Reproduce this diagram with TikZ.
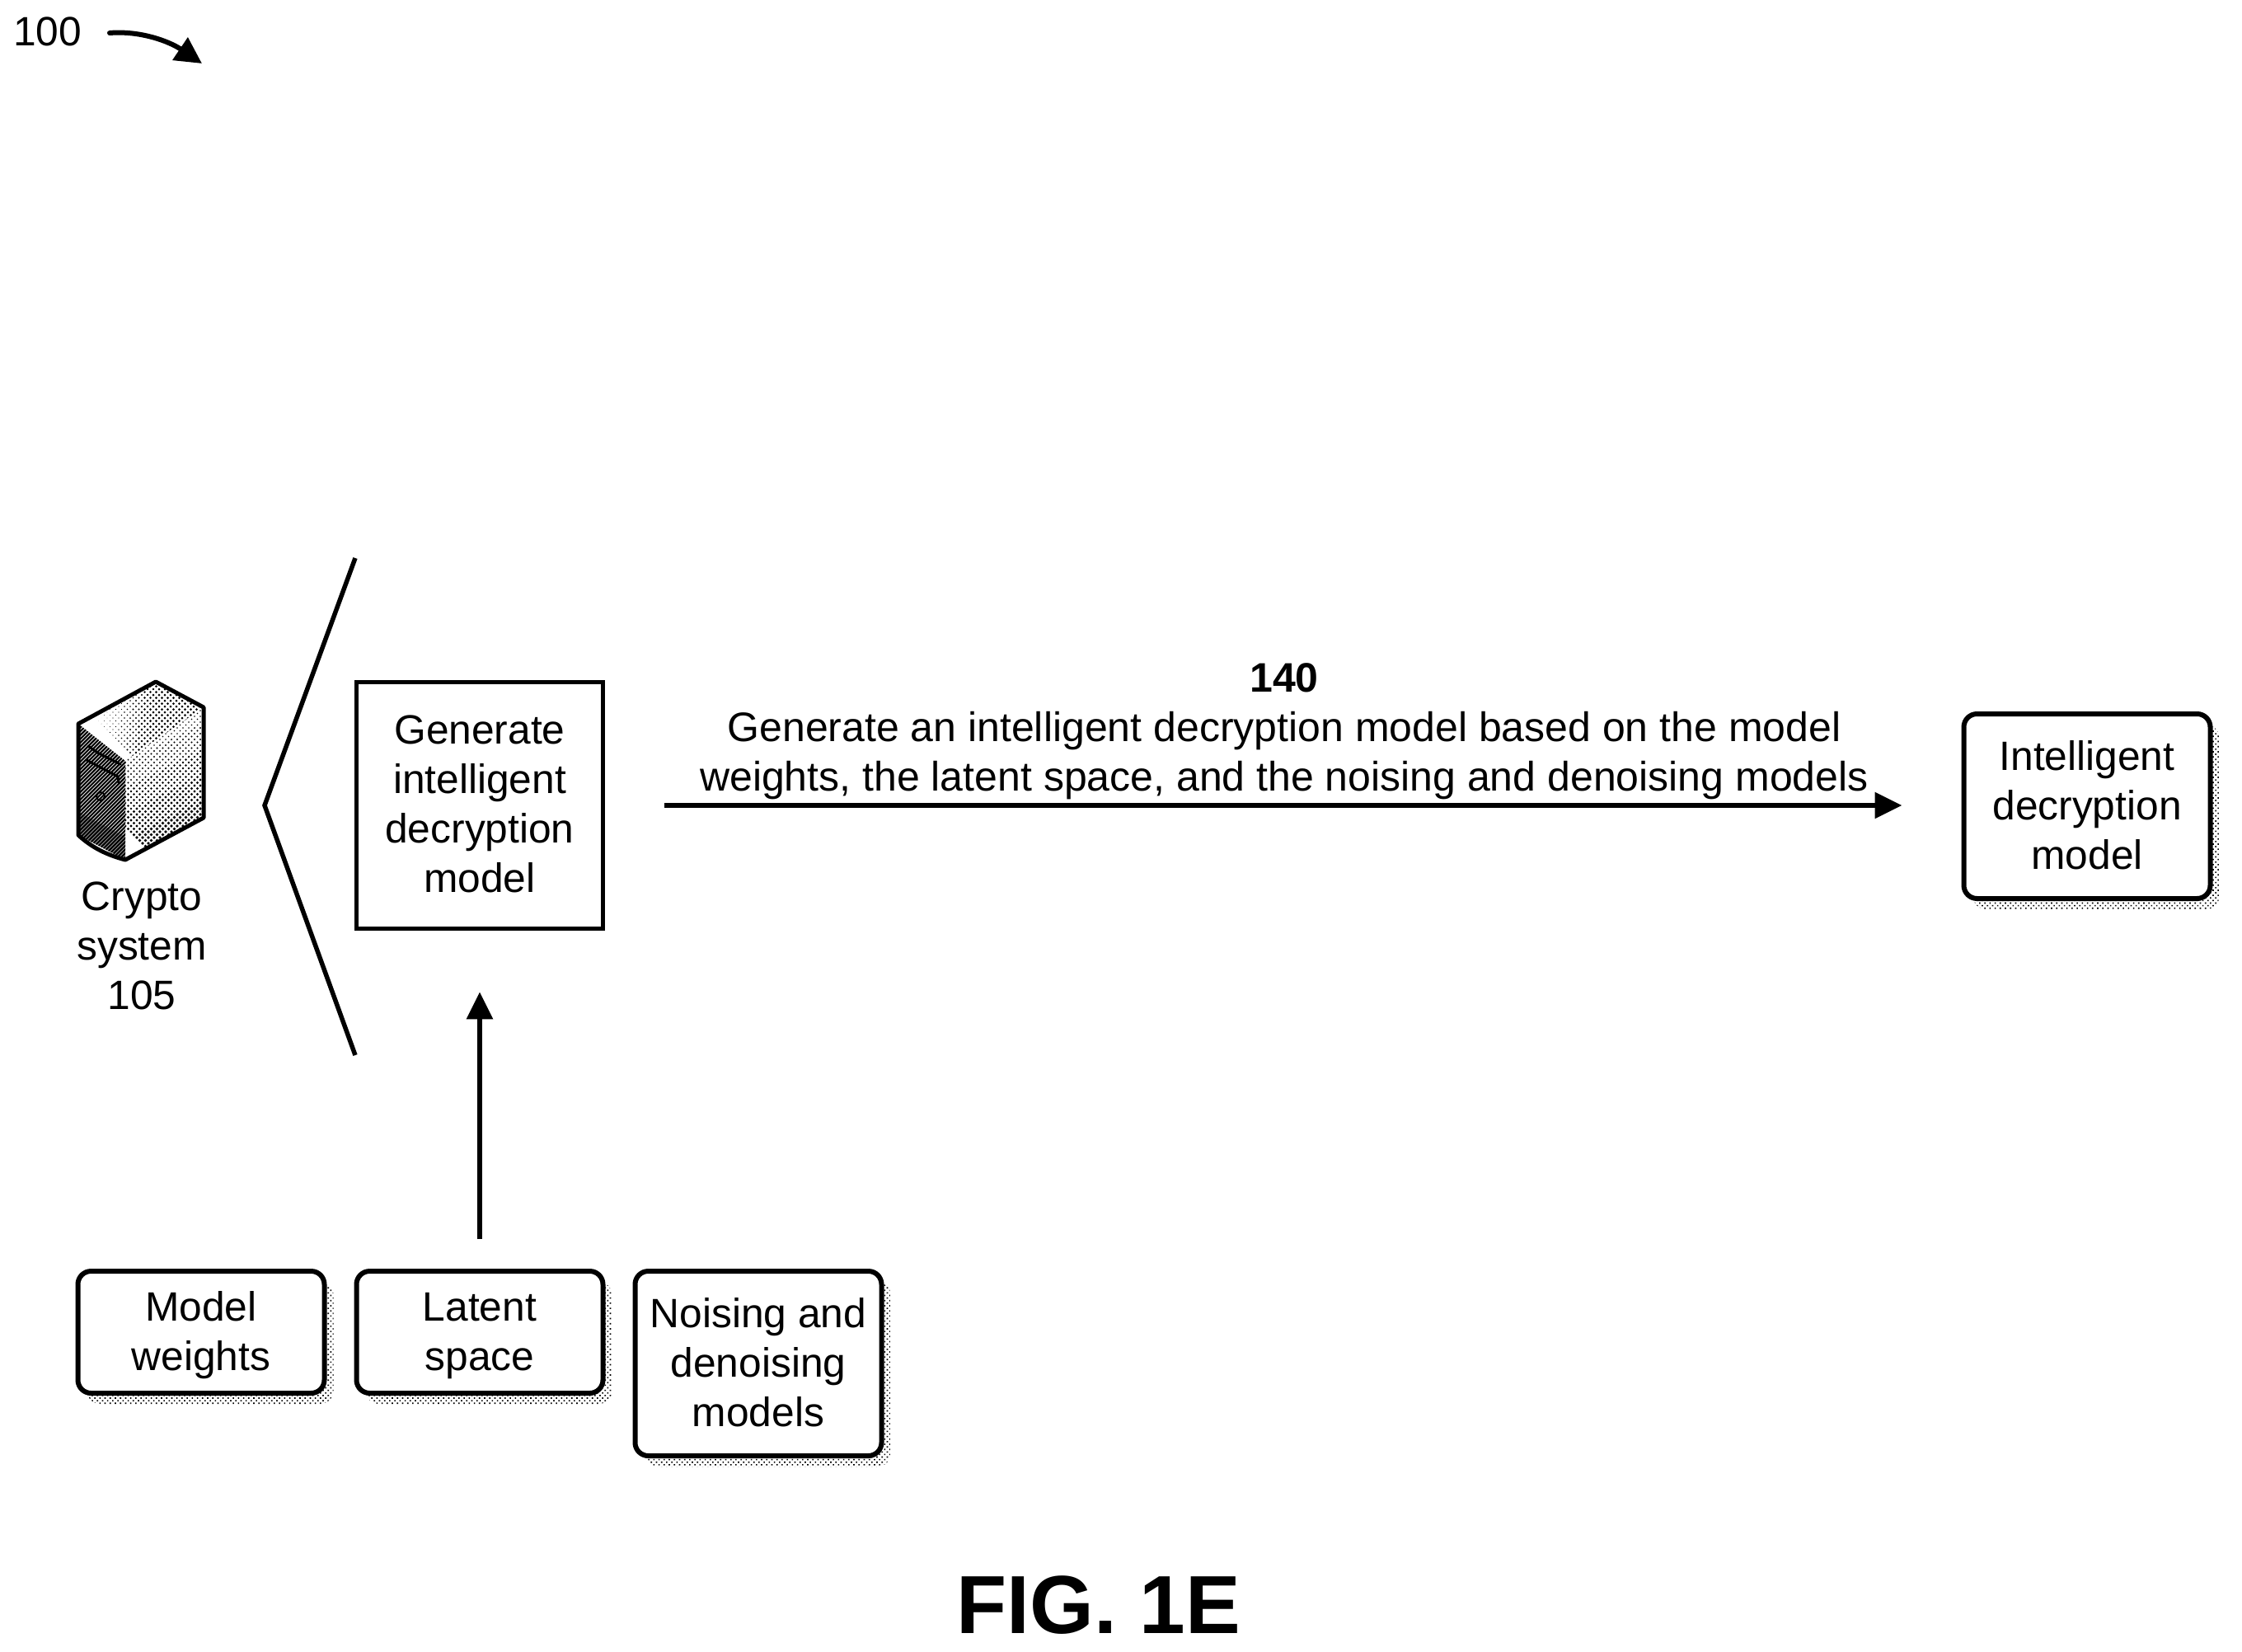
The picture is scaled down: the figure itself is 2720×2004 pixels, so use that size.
\documentclass[tikz,border=0pt]{standalone}
\usepackage{fontspec}
\setmainfont{Liberation Sans}
\usetikzlibrary{arrows.meta,patterns.meta,shadows,calc}
\newcommand{\downa}{\rule{0pt}{44pt}}
\newcommand{\upa}{\rule[-3pt]{0pt}{1pt}}
\tikzset{
  x=1pt,y=-1pt,
  txt/.style={font=\fontsize{49.7}{60}\selectfont,align=center,inner sep=0pt},
  shade dots/.style={pattern={Dots[distance=4.4pt,radius=1.15pt,angle=45]},draw=none},
  box/.style={txt,draw=black,line width=6pt,fill=white,minimum width=299pt,rounded corners=16pt,
    general shadow={shadow xshift=11pt,shadow yshift=-13pt,shade dots}},
  sqbox/.style={txt,draw=black,line width=5.5pt,fill=white,minimum width=299pt,minimum height=299pt},
  link/.style={draw=black,line width=5.5pt,-{Triangle[length=33pt,width=31pt]}},
  brace/.style={draw=black,line width=5.5pt,line join=miter},
}
\begin{document}
\begin{tikzpicture}
\useasboundingbox (0,0) rectangle (2720,2004);
% reference
\node[txt,anchor=west] (ref) at (16,38) {100};
\coordinate (refa) at (133,40);
\coordinate (refb) at (245,77);
\draw[draw=black,line width=6pt,line cap=round,-{Triangle[length=32pt,width=32pt]}]
  (refa) .. controls (170,37) and (205,50) .. (refb);
% server icon
\coordinate (sTL) at (95,878);
\coordinate (sT) at (189,827);
\coordinate (sTR) at (247,858);
\coordinate (sBR) at (247,992);
\coordinate (sB) at (152,1043);
\coordinate (sBL) at (95,1013);
\coordinate (sF) at (152,923);
% top face dots
\begin{scope}
\clip (sTL) -- (sT) -- (sTR) -- (sF) -- cycle;
\foreach \i in {0,...,40}{\foreach \j in {0,...,40}{
  \pgfmathsetmacro{\px}{95+\i*3.5+\j*3.5}
  \pgfmathsetmacro{\py}{850+\i*3.5-\j*3.5}
  \pgfmathsetmacro{\rr}{max(0,min(1.5,0.022*(\px-120)+0.004*(\py-830)))}
  \ifdim\rr pt>0.15pt \fill[black] (\px,\py) circle (\rr pt);\fi
}}
\end{scope}
% right face dots
\begin{scope}
\clip (sF) -- (sTR) -- (sBR) -- (sB) -- cycle;
\foreach \i in {0,...,40}{\foreach \j in {0,...,40}{
  \pgfmathsetmacro{\px}{110+\i*3.5+\j*3.5}
  \pgfmathsetmacro{\py}{960+\i*3.5-\j*3.5}
  \pgfmathsetmacro{\rr}{min(2,0.8+0.008*(\py-900)+0.004*(\px-150))}
  \fill[black] (\px,\py) circle (\rr pt);
}}
\end{scope}
% left face
\begin{scope}
\clip (sTL) -- (sF) -- (sB) -- (sBL) -- cycle;
\foreach \k in {0,...,50}{
  \draw[black,line width=2.2pt] (80,{900+\k*4.6}) -- (170,{810+\k*4.6});
}
\fill[black,opacity=0.35] (95,985) -- (152,1015) -- (152,1043) -- (95,1013) -- cycle;
\end{scope}
\draw[black,line width=3pt,line cap=round] (107,905) -- (120,914) -- (146,927);
\draw[black,line width=3pt] (105,922) -- (143,942) -- (144,950);
\draw[black,line width=2pt] (122,966) circle (5pt);
\draw[black,line width=5pt,line join=round] (sTL) -- (sT) -- (sTR) -- (sBR) -- (sB)
  .. controls (125,1036) and (108,1025) .. (sBL) -- cycle;
\node[txt] (crypto) at (172,1147) {Crypto\\system\\105};
% bracket
\coordinate (brt) at (431,677);
\coordinate (brm) at (321,977);
\coordinate (brb) at (431,1280);
\draw[brace] (brt) -- (brm) -- (brb);
% boxes
\node[sqbox] (gen) at (582,977) {Generate\\intelligent\\decryption\\model\upa};
\node[box,minimum height=148pt] (weights) at (244,1616) {\downa Model\\weights};
\node[box,minimum height=148pt] (latent) at (582,1616) {\downa Latent\\space};
\node[box,minimum height=224pt] (noise) at (920,1654) {Noising and\\denoising\\models\upa};
\node[box,minimum height=224pt] (intel) at (2532,978) {Intelligent\\decryption\\model\upa};
% connectors
\draw[link,shorten <=36pt,shorten >=74pt] (latent.north) -- (gen.south);
\draw[link,shorten <=72pt,shorten >=72pt] (gen.east) -- (gen.east -| intel.west);
% step label
\node[txt,font=\fontsize{50}{60}\selectfont] (lbl) at (1558,887) {\textbf{140}\\Generate an intelligent decryption model based on the model\\weights, the latent space, and the noising and denoising models};
\node[inner sep=0pt,font=\fontsize{100}{110}\selectfont\bfseries] (fig) at (1333,1947) {FIG. 1E};
\end{tikzpicture}
\end{document}
